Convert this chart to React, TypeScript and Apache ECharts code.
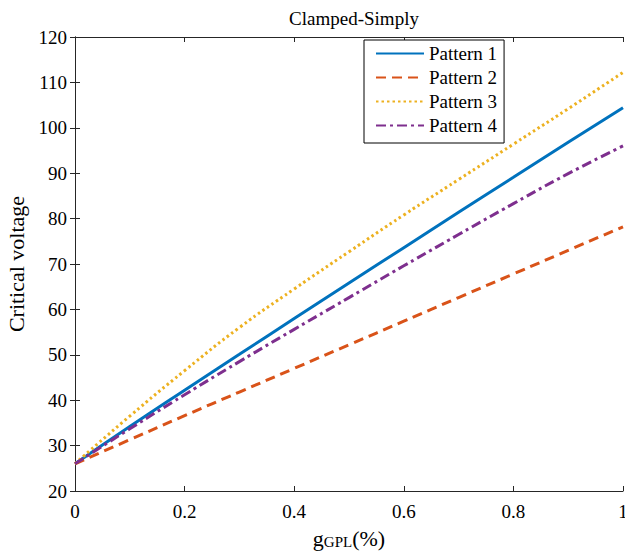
import React, { useEffect, useRef } from "react";
import * as echarts from "echarts";

const xValues = [0, 0.1, 0.2, 0.3, 0.4, 0.5, 0.6, 0.7, 0.8, 0.9, 1.0];
const pattern1 = [26, 34.2, 42.2, 50.1, 58.0, 65.8, 73.6, 81.4, 89.1, 96.8, 104.4];
const pattern2 = [26, 31.3, 36.6, 41.8, 47.0, 52.2, 57.4, 62.6, 67.8, 73.0, 78.2];
const pattern3 = [26, 36.5, 46.5, 56.0, 64.5, 72.7, 80.8, 88.6, 96.4, 104.2, 112.2];
const pattern4 = [26, 33.7, 41.2, 48.5, 55.6, 62.6, 69.6, 76.5, 83.3, 89.9, 96.0];
const seriesNames = ["Pattern 1", "Pattern 2", "Pattern 3", "Pattern 4"];
const colors = ["#0072BD", "#D95319", "#EDB120", "#7E2F8E"];

const FONT = "Liberation Serif";

export default function App() {
  const ref = useRef<HTMLDivElement>(null);
  useEffect(() => {
    if (!ref.current) return;
    const chart = echarts.init(ref.current, undefined, { renderer: "svg" });
    const datasets = [pattern1, pattern2, pattern3, pattern4];
    const dashes: any[] = ["solid", [10, 6], [2.5, 3], [10, 4, 3, 4]];
    const axisColor = "#262626";
    const grid = {
      left: 75,
      right: 2,
      top: 37,
      bottom: 60,
      containLabel: false,
      outerBoundsMode: "none",
    };
    chart.setOption({
      animation: false,
      backgroundColor: "#ffffff",
      title: {
        text: "Clamped-Simply",
        left: 349,
        top: 4,
        textAlign: "center",
        textStyle: { fontFamily: FONT, fontSize: 19, fontWeight: "normal", color: "#000" },
      },
      legend: {
        orient: "vertical",
        left: 364,
        top: 40,
        data: seriesNames,
        itemWidth: 48,
        itemHeight: 14,
        itemGap: 5,
        padding: [4, 7, 8, 11],
        borderColor: "#000",
        borderWidth: 1,
        backgroundColor: "#fff",
        itemStyle: { opacity: 0 },
        textStyle: { fontFamily: FONT, fontSize: 19, color: "#000", padding: [0, 0, 0, 0] },
      },
      grid,
      xAxis: [
        {
          type: "value",
          min: 0,
          max: 1,
          interval: 0.2,
          name: "{g|g}{s|GPL}{g|(%)}",
          nameLocation: "middle",
          nameGap: 36,
          nameTextStyle: {
            rich: {
              g: { fontFamily: FONT, fontSize: 22, color: "#000" },
              s: { fontFamily: FONT, fontSize: 15, color: "#000", verticalAlign: "bottom", padding: [7, 0, 0, 0] },
            },
          },
          axisLine: { show: true, lineStyle: { color: axisColor, width: 1 } },
          axisTick: { show: true, inside: true, length: 5, lineStyle: { color: axisColor } },
          axisLabel: {
            fontFamily: FONT,
            fontSize: 19,
            color: "#000",
            margin: 11,
            formatter: (v: number) => (Math.round(v * 10) / 10).toString(),
          },
          splitLine: { show: false },
        },
        {
          type: "value",
          position: "top",
          min: 0,
          max: 1,
          interval: 0.2,
          axisLine: { show: true, lineStyle: { color: axisColor, width: 1 } },
          axisTick: { show: true, inside: true, length: 5, lineStyle: { color: axisColor } },
          axisLabel: { show: false },
          splitLine: { show: false },
        },
      ],
      yAxis: [
        {
          type: "value",
          min: 20,
          max: 120,
          interval: 10,
          name: "Critical voltage",
          nameLocation: "middle",
          nameGap: 40,
          nameTextStyle: { fontFamily: FONT, fontSize: 22, color: "#000" },
          axisLine: { show: true, lineStyle: { color: axisColor, width: 1 } },
          axisTick: { show: true, inside: true, length: 5, lineStyle: { color: axisColor } },
          axisLabel: { fontFamily: FONT, fontSize: 19, color: "#000", margin: 8 },
          splitLine: { show: false },
        },
        {
          type: "value",
          position: "right",
          min: 20,
          max: 120,
          interval: 10,
          axisLine: { show: true, lineStyle: { color: axisColor, width: 1 } },
          axisTick: { show: true, inside: true, length: 5, lineStyle: { color: axisColor } },
          axisLabel: { show: false },
          splitLine: { show: false },
        },
      ],
      series: datasets.map((d, i) => ({
        name: seriesNames[i],
        type: "line",
        xAxisIndex: 0,
        yAxisIndex: 0,
        data: d.map((v, j) => [xValues[j], v]),
        showSymbol: false,
        symbol: "none",
        smooth: true,
        color: colors[i],
        lineStyle: { color: colors[i], width: 3, type: dashes[i] },
        z: 2,
      })),
    });
    return () => chart.dispose();
  }, []);
  return (
    <div
      ref={ref}
      style={{ position: "absolute", left: 0, top: 0, width: 625, height: 551 }}
    />
  );
}
